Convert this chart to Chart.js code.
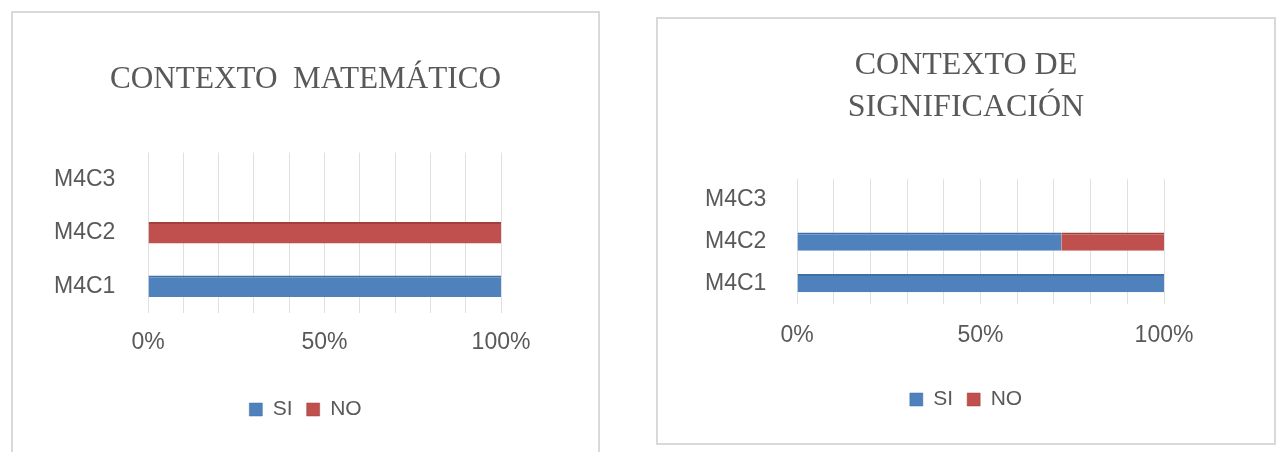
<!DOCTYPE html>
<html lang="es">
<head>
<meta charset="UTF-8">
<title>Contexto matemático / Contexto de significación</title>
<script src="https://cdn.jsdelivr.net/npm/chart.js@4/dist/chart.umd.min.js"></script>
<style>
  body { margin: 0; background: #fff; width: 1282px; height: 452px; position: relative; overflow: hidden; }
  .box { position: absolute; border: 2px solid #d9d9d9; background: #fff; box-sizing: border-box; }
  #box1 { left: 11px; top: 11px; width: 589px; height: 450px; }
  #box2 { left: 656px; top: 17px; width: 620px; height: 428px; }
  canvas { display: block; }
</style>
</head>
<body>
<div class="box" id="box1"><canvas id="chart1"></canvas></div>
<div class="box" id="box2"><canvas id="chart2"></canvas></div>

<script>
// categories (top to bottom as drawn)
var categories = ["M4C3", "M4C2", "M4C1"];
var seriesNames = ["SI", "NO"];
var tickLabels = ["0%", "50%", "100%"];

// contexto matemático
var mat_si = [0, 0, 100];
var mat_no = [0, 100, 0];

// contexto de significación
var sig_si = [0, 72, 100];
var sig_no = [0, 28, 0];

var blue = "#4F81BD";
var red = "#C0504D";
var gray = "#595959";
var labelFont = "'Liberation Sans Narrow', 'Liberation Sans', sans-serif";
var titleFont = "'Liberation Serif', 'DejaVu Serif', serif";

function makeChart(id, w, h, title, si, no, opt) {
  var cv = document.getElementById(id);
  cv.width = w; cv.height = h;
  cv.style.width = w + "px"; cv.style.height = h + "px";
  return new Chart(cv, {
    type: "bar",
    data: {
      labels: categories,
      datasets: [
        { label: seriesNames[0], data: si, backgroundColor: blue, borderColor: "#3f6fa6", borderWidth: { top: 2 }, borderSkipped: false },
        { label: seriesNames[1], data: no, backgroundColor: red, borderColor: "#a33f3c", borderWidth: { top: 2 }, borderSkipped: false }
      ]
    },
    options: {
      indexAxis: "y",
      responsive: false,
      animation: false,
      barPercentage: opt.barPct,
      categoryPercentage: 0.8,
      layout: { padding: opt.padding },
      scales: {
        x: {
          stacked: true,
          min: 0, max: 100,
          ticks: {
            stepSize: 10,
            color: gray,
            font: { family: labelFont, size: 23 },
            padding: opt.xTickPad,
            maxRotation: 0,
            autoSkip: false,
            callback: function (v) {
              return v % 50 === 0 ? tickLabels[v / 50] : "";
            }
          },
          grid: { color: "#e0e0e0", drawTicks: false },
          border: { display: false },
          afterFit: function (s) { s.height = opt.xHeight; }
        },
        y: {
          stacked: true,
          // labels sit left of the plot; mirror keeps them from being clipped
          ticks: { color: gray, font: { family: labelFont, size: 23 }, mirror: true, padding: opt.yTickPad },
          grid: { display: false, drawTicks: false },
          border: { display: false },
          afterFit: function (s) { s.width = opt.yWidth; }
        }
      },
      plugins: {
        title: {
          display: true,
          text: title,
          color: gray,
          font: { family: titleFont, size: 32, weight: "normal", lineHeight: 1.3 },
          padding: opt.titlePad
        },
        legend: {
          position: "bottom",
          labels: {
            color: gray,
            font: { family: labelFont, size: 21 },
            boxWidth: 13, boxHeight: 13,
            padding: 14
          }
        },
        tooltip: { enabled: false }
      }
    }
  });
}

makeChart("chart1", 585, 446, "CONTEXTO  MATEMÁTICO", mat_si, mat_no, {
  padding: { left: 97, right: 97, top: 0, bottom: 29 },
  xTickPad: 16,
  xHeight: 72,
  yWidth: 38,
  yTickPad: -94,
  barPct: 0.5,
  titlePad: { top: 46, bottom: 52 }
});

makeChart("chart2", 616, 424, ["CONTEXTO DE", "SIGNIFICACIÓN"], sig_si, sig_no, {
  padding: { left: 110, right: 110, top: 0, bottom: 23 },
  xTickPad: 18,
  xHeight: 71,
  yWidth: 29,
  yTickPad: -92,
  barPct: 0.55,
  titlePad: { top: 26, bottom: 51 }
});
</script>
</body>
</html>
